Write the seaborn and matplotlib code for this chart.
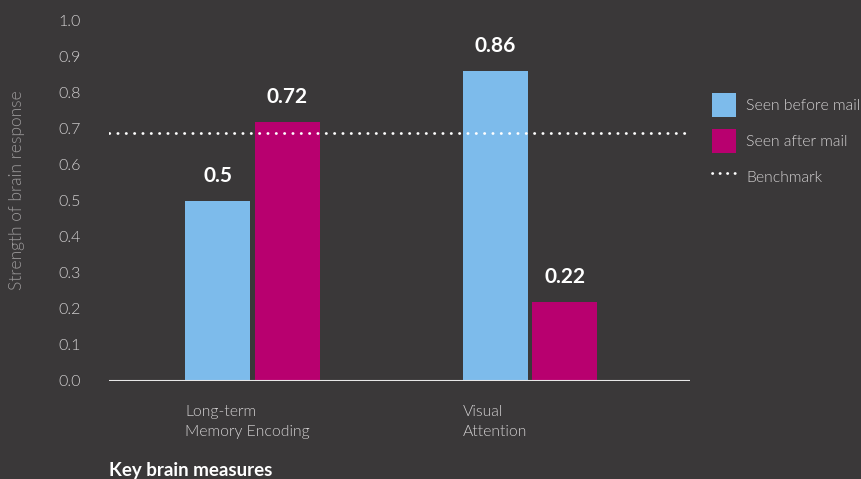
import matplotlib
matplotlib.use("Agg")
import matplotlib.pyplot as plt
import seaborn as sns
import pandas as pd
from matplotlib.patches import Patch
from matplotlib.lines import Line2D

measures = ["Long-term\nMemory Encoding", "Visual\nAttention"]
series_names = ["Seen before mail", "Seen after mail"]
before = [0.5, 0.86]
after = [0.72, 0.22]
benchmark = 0.69
yticks = [0.0, 0.1, 0.2, 0.3, 0.4, 0.5, 0.6, 0.7, 0.8, 0.9, 1.0]

BG = "#3a3839"
BLUE = "#7dbbeb"
MAGENTA = "#b8006f"
TXT = "#d4d2d3"
LW = 300

df = pd.DataFrame({
    "measure": measures * 2,
    "value": before + after,
    "series": [series_names[0]] * 2 + [series_names[1]] * 2,
})

sns.set_theme(style="dark")
plt.rcParams["font.family"] = ["Lato", "DejaVu Sans"]

fig = plt.figure(figsize=(8.61, 4.79), dpi=100, facecolor=BG)
ax = fig.add_axes([109/861, 1 - 381/479, 581/861, 360/479])
ax.set_facecolor(BG)

sns.barplot(data=df, x="measure", y="value", hue="series",
            palette=[BLUE, MAGENTA], width=0.5, gap=0.064,
            saturation=1, ax=ax, legend=False, edgecolor="none", linewidth=0)

ax.set_xlim(-0.517, 1.577)
ax.set_ylim(0, 1.0)
for s in ax.spines.values():
    s.set_visible(False)
ax.axhline(0, color="#e8e8e8", lw=1.5, zorder=5)
ax.axhline(benchmark, color="white", lw=2, linestyle=(0, (0.1, 2.9)),
           dash_capstyle="round", zorder=6)

for c in ax.containers:
    ax.bar_label(c, fmt="%g", padding=11, color="white",
                 fontsize=15, fontweight="bold")

ax.set_yticks(yticks)
ax.set_yticklabels([f"{t:.1f}" for t in yticks], color=TXT, fontsize=11.5,
                   fontweight=LW)
ax.tick_params(axis="y", length=0, pad=20)

# category labels left-aligned at the left edge of each group's first bar
lefts = [p.get_x() for p in ax.containers[0].patches]
ax.set_xticks(lefts)
ax.set_xticklabels(measures, ha="left", color=TXT, fontsize=11.3,
                   linespacing=1.55, fontweight=LW)
ax.tick_params(axis="x", length=0, pad=17.5)
ax.set_xlabel("")
ax.grid(False)

ax.set_ylabel("Strength of brain response", color="#9a9899", fontsize=12.5,
              fontweight=LW)
ax.yaxis.set_label_coords(-0.145, 0.53)

fig.text(109/861, 1 - 476/479, "Key brain measures", color="white",
         fontsize=13.5, fontweight="bold", ha="left", va="baseline")

handles = [
    Patch(facecolor=BLUE, edgecolor="none", label=series_names[0]),
    Patch(facecolor=MAGENTA, edgecolor="none", label=series_names[1]),
    Line2D([0], [0], color="white", lw=2, linestyle=(0, (0.1, 2.6)),
           dash_capstyle="round", label="Benchmark"),
]
leg = fig.legend(handles=handles, loc="upper left",
                 bbox_to_anchor=(706/861, 1 - 87/479), frameon=False,
                 prop={"size": 11.3, "weight": LW},
                 handlelength=1.53, handleheight=1.98,
                 labelspacing=0.75, handletextpad=0.64, borderaxespad=0)
for t in leg.get_texts():
    t.set_color(TXT)

fig.savefig("out.png", dpi=100, facecolor=BG)
